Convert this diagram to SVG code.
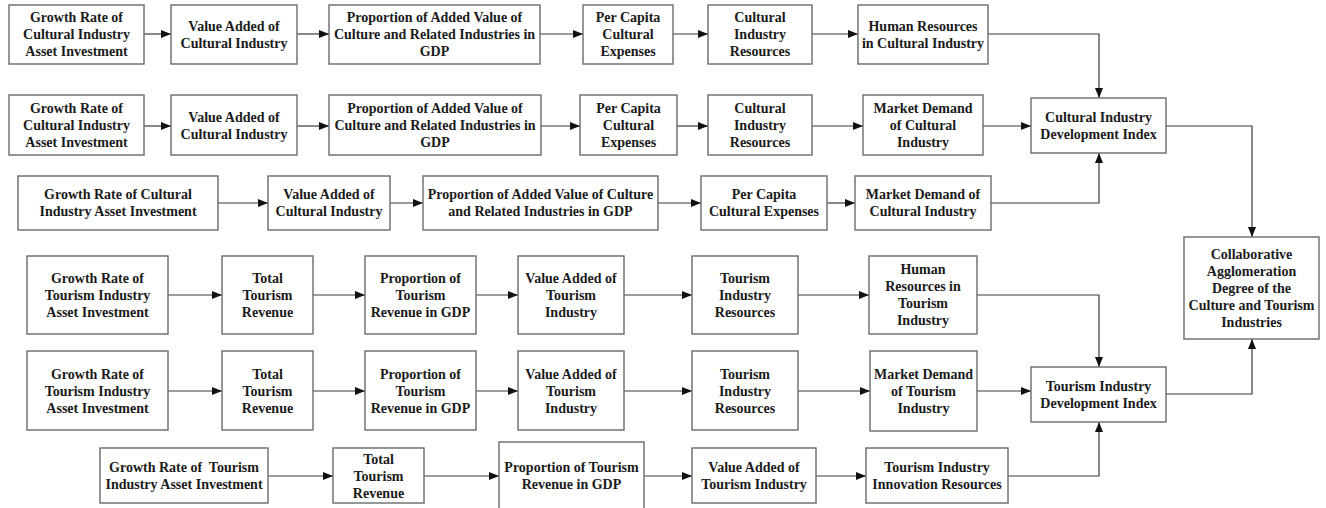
<svg xmlns="http://www.w3.org/2000/svg" width="1326" height="508" viewBox="0 0 1326 508">
<style>
.b{fill:#fff;stroke:#6a6a6a;stroke-width:1.4}
.t{font-family:"Liberation Serif","Times New Roman",serif;font-weight:bold;font-size:14px;fill:#1a1a1a;text-anchor:middle}
.c{fill:none;stroke:#3a3a3a;stroke-width:1.2;marker-end:url(#ah)}
</style>
<defs>
<marker id="ah" viewBox="0 0 10 8" refX="10" refY="4" markerWidth="10" markerHeight="8" markerUnits="userSpaceOnUse" orient="auto"><path d="M0,0 L10,4 L0,8 Z" fill="#111"/></marker>
</defs>
<rect width="1326" height="508" fill="#fff"/>
<g id="connectors">
<path class="c" d="M144,34H171"/><path class="c" d="M297,34H329"/><path class="c" d="M540,34H583"/><path class="c" d="M673,34H708"/><path class="c" d="M812,34H858"/><path class="c" d="M988,34H1099V98"/>
<path class="c" d="M144,126H171"/><path class="c" d="M297,126H329"/><path class="c" d="M541,126H580"/><path class="c" d="M677,126H708"/><path class="c" d="M812,126H863"/><path class="c" d="M983,126H1031"/>
<path class="c" d="M218,203H268"/><path class="c" d="M390,203H423"/><path class="c" d="M658,203H701"/><path class="c" d="M827,203H855"/><path class="c" d="M991,203H1099V153"/>
<path class="c" d="M1166,126H1252V237"/>
<path class="c" d="M168,295H222"/><path class="c" d="M313,295H365"/><path class="c" d="M476,295H518"/><path class="c" d="M624,295H692"/><path class="c" d="M798,295H869"/><path class="c" d="M977,295H1099V367"/>
<path class="c" d="M168,391H222"/><path class="c" d="M313,391H365"/><path class="c" d="M476,391H518"/><path class="c" d="M624,391H692"/><path class="c" d="M798,391H870"/><path class="c" d="M977,391H1031"/>
<path class="c" d="M268,476H333"/><path class="c" d="M424,476H499"/><path class="c" d="M644,476H692"/><path class="c" d="M816,476H866"/><path class="c" d="M1008,476H1099V422"/>
<path class="c" d="M1166,394H1252V339"/>
</g>
<g id="n1"><rect class="b" x="9" y="5" width="135" height="59"/><text class="t"><tspan x="76.5" y="22">Growth Rate of</tspan><tspan x="76.5" y="39">Cultural Industry</tspan><tspan x="76.5" y="56">Asset Investment</tspan></text></g>
<g id="n2"><rect class="b" x="171" y="5" width="126" height="59"/><text class="t"><tspan x="234" y="31">Value Added of</tspan><tspan x="234" y="48">Cultural Industry</tspan></text></g>
<g id="n3"><rect class="b" x="329" y="5" width="211" height="59"/><text class="t"><tspan x="434.5" y="22">Proportion of Added Value of</tspan><tspan x="434.5" y="39">Culture and Related Industries in</tspan><tspan x="434.5" y="56">GDP</tspan></text></g>
<g id="n4"><rect class="b" x="583" y="5" width="90" height="59"/><text class="t"><tspan x="628" y="22">Per Capita</tspan><tspan x="628" y="39">Cultural</tspan><tspan x="628" y="56">Expenses</tspan></text></g>
<g id="n5"><rect class="b" x="708" y="5" width="104" height="59"/><text class="t"><tspan x="760" y="22">Cultural</tspan><tspan x="760" y="39">Industry</tspan><tspan x="760" y="56">Resources</tspan></text></g>
<g id="n6"><rect class="b" x="858" y="5" width="130" height="59"/><text class="t"><tspan x="923" y="31">Human Resources</tspan><tspan x="923" y="48">in Cultural Industry</tspan></text></g>
<g id="n7"><rect class="b" x="9" y="95" width="135" height="60"/><text class="t"><tspan x="76.5" y="113">Growth Rate of</tspan><tspan x="76.5" y="130">Cultural Industry</tspan><tspan x="76.5" y="147">Asset Investment</tspan></text></g>
<g id="n8"><rect class="b" x="171" y="95" width="126" height="60"/><text class="t"><tspan x="234" y="122">Value Added of</tspan><tspan x="234" y="139">Cultural Industry</tspan></text></g>
<g id="n9"><rect class="b" x="329" y="95" width="212" height="60"/><text class="t"><tspan x="435" y="113">Proportion of Added Value of</tspan><tspan x="435" y="130">Culture and Related Industries in</tspan><tspan x="435" y="147">GDP</tspan></text></g>
<g id="n10"><rect class="b" x="580" y="95" width="97" height="60"/><text class="t"><tspan x="628.5" y="113">Per Capita</tspan><tspan x="628.5" y="130">Cultural</tspan><tspan x="628.5" y="147">Expenses</tspan></text></g>
<g id="n11"><rect class="b" x="708" y="95" width="104" height="60"/><text class="t"><tspan x="760" y="113">Cultural</tspan><tspan x="760" y="130">Industry</tspan><tspan x="760" y="147">Resources</tspan></text></g>
<g id="n12"><rect class="b" x="863" y="95" width="120" height="60"/><text class="t"><tspan x="923" y="113">Market Demand</tspan><tspan x="923" y="130">of Cultural</tspan><tspan x="923" y="147">Industry</tspan></text></g>
<g id="cidi"><rect class="b" x="1031" y="98" width="135" height="55"/><text class="t"><tspan x="1098.5" y="122">Cultural Industry</tspan><tspan x="1098.5" y="139">Development Index</tspan></text></g>
<g id="n13"><rect class="b" x="18" y="176" width="200" height="54"/><text class="t"><tspan x="118" y="199">Growth Rate of Cultural</tspan><tspan x="118" y="216">Industry Asset Investment</tspan></text></g>
<g id="n14"><rect class="b" x="268" y="176" width="122" height="54"/><text class="t"><tspan x="329" y="199">Value Added of</tspan><tspan x="329" y="216">Cultural Industry</tspan></text></g>
<g id="n15"><rect class="b" x="423" y="176" width="235" height="54"/><text class="t"><tspan x="540.5" y="199">Proportion of Added Value of Culture</tspan><tspan x="540.5" y="216">and Related Industries in GDP</tspan></text></g>
<g id="n16"><rect class="b" x="701" y="176" width="126" height="54"/><text class="t"><tspan x="764" y="199">Per Capita</tspan><tspan x="764" y="216">Cultural Expenses</tspan></text></g>
<g id="n17"><rect class="b" x="855" y="176" width="136" height="54"/><text class="t"><tspan x="923" y="199">Market Demand of</tspan><tspan x="923" y="216">Cultural Industry</tspan></text></g>
<g id="collab"><rect class="b" x="1184" y="237" width="135" height="102"/><text class="t"><tspan x="1251.5" y="259">Collaborative</tspan><tspan x="1251.5" y="276">Agglomeration</tspan><tspan x="1251.5" y="293">Degree of the</tspan><tspan x="1251.5" y="310">Culture and Tourism</tspan><tspan x="1251.5" y="327">Industries</tspan></text></g>
<g id="n18"><rect class="b" x="27" y="256" width="141" height="78"/><text class="t"><tspan x="97.5" y="283">Growth Rate of</tspan><tspan x="97.5" y="300">Tourism Industry</tspan><tspan x="97.5" y="317">Asset Investment</tspan></text></g>
<g id="n19"><rect class="b" x="222" y="256" width="91" height="78"/><text class="t"><tspan x="267.5" y="283">Total</tspan><tspan x="267.5" y="300">Tourism</tspan><tspan x="267.5" y="317">Revenue</tspan></text></g>
<g id="n20"><rect class="b" x="365" y="256" width="111" height="78"/><text class="t"><tspan x="420.5" y="283">Proportion of</tspan><tspan x="420.5" y="300">Tourism</tspan><tspan x="420.5" y="317">Revenue in GDP</tspan></text></g>
<g id="n21"><rect class="b" x="518" y="256" width="106" height="78"/><text class="t"><tspan x="571" y="283">Value Added of</tspan><tspan x="571" y="300">Tourism</tspan><tspan x="571" y="317">Industry</tspan></text></g>
<g id="n22"><rect class="b" x="692" y="256" width="106" height="78"/><text class="t"><tspan x="745" y="283">Tourism</tspan><tspan x="745" y="300">Industry</tspan><tspan x="745" y="317">Resources</tspan></text></g>
<g id="n23"><rect class="b" x="869" y="256" width="108" height="78"/><text class="t"><tspan x="923" y="274">Human</tspan><tspan x="923" y="291">Resources in</tspan><tspan x="923" y="308">Tourism</tspan><tspan x="923" y="325">Industry</tspan></text></g>
<g id="n24"><rect class="b" x="27" y="351" width="141" height="79"/><text class="t"><tspan x="97.5" y="379">Growth Rate of</tspan><tspan x="97.5" y="396">Tourism Industry</tspan><tspan x="97.5" y="413">Asset Investment</tspan></text></g>
<g id="n25"><rect class="b" x="222" y="351" width="91" height="79"/><text class="t"><tspan x="267.5" y="379">Total</tspan><tspan x="267.5" y="396">Tourism</tspan><tspan x="267.5" y="413">Revenue</tspan></text></g>
<g id="n26"><rect class="b" x="365" y="351" width="111" height="79"/><text class="t"><tspan x="420.5" y="379">Proportion of</tspan><tspan x="420.5" y="396">Tourism</tspan><tspan x="420.5" y="413">Revenue in GDP</tspan></text></g>
<g id="n27"><rect class="b" x="518" y="351" width="106" height="79"/><text class="t"><tspan x="571" y="379">Value Added of</tspan><tspan x="571" y="396">Tourism</tspan><tspan x="571" y="413">Industry</tspan></text></g>
<g id="n28"><rect class="b" x="692" y="351" width="106" height="79"/><text class="t"><tspan x="745" y="379">Tourism</tspan><tspan x="745" y="396">Industry</tspan><tspan x="745" y="413">Resources</tspan></text></g>
<g id="n29"><rect class="b" x="870" y="351" width="107" height="80"/><text class="t"><tspan x="923.5" y="379">Market Demand</tspan><tspan x="923.5" y="396">of Tourism</tspan><tspan x="923.5" y="413">Industry</tspan></text></g>
<g id="tidi"><rect class="b" x="1031" y="367" width="135" height="55"/><text class="t"><tspan x="1098.5" y="391">Tourism Industry</tspan><tspan x="1098.5" y="408">Development Index</tspan></text></g>
<g id="n30"><rect class="b" x="100" y="448" width="168" height="55"/><text class="t" xml:space="preserve"><tspan x="184" y="472">Growth Rate of  Tourism</tspan><tspan x="184" y="489">Industry Asset Investment</tspan></text></g>
<g id="n31"><rect class="b" x="333" y="448" width="91" height="55"/><text class="t"><tspan x="378.5" y="464">Total</tspan><tspan x="378.5" y="481">Tourism</tspan><tspan x="378.5" y="498">Revenue</tspan></text></g>
<g id="n32"><rect class="b" x="499" y="442" width="145" height="72"/><text class="t"><tspan x="571.5" y="472">Proportion of Tourism</tspan><tspan x="571.5" y="489">Revenue in GDP</tspan></text></g>
<g id="n33"><rect class="b" x="692" y="448" width="124" height="55"/><text class="t"><tspan x="754" y="472">Value Added of</tspan><tspan x="754" y="489">Tourism Industry</tspan></text></g>
<g id="n34"><rect class="b" x="866" y="448" width="142" height="55"/><text class="t"><tspan x="937" y="472">Tourism Industry</tspan><tspan x="937" y="489">Innovation Resources</tspan></text></g>
</svg>
